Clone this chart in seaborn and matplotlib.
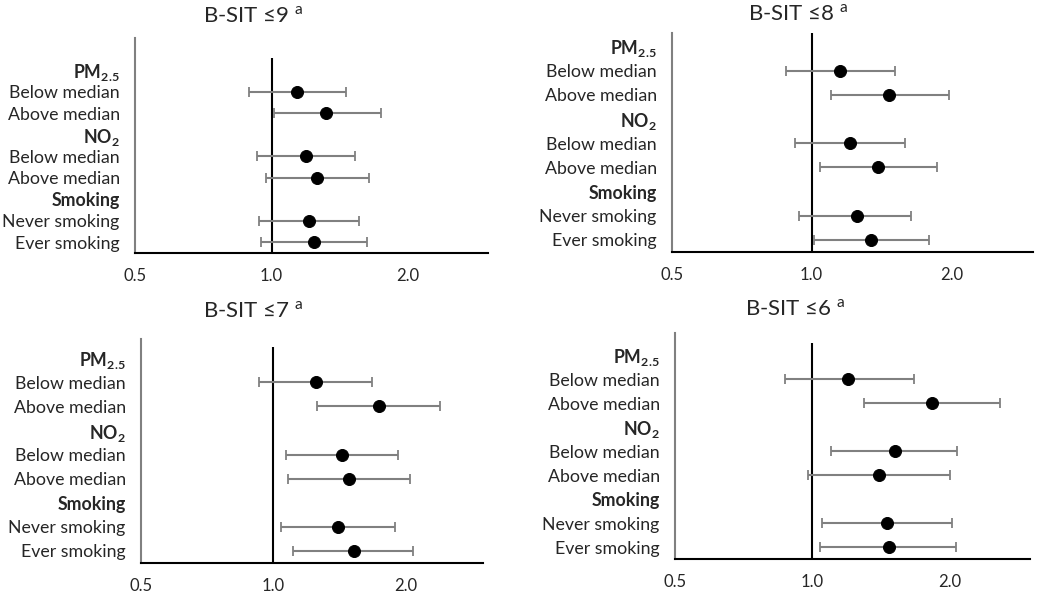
import numpy as np
import pandas as pd
import matplotlib
matplotlib.use("Agg")
import matplotlib.pyplot as plt
import seaborn as sns

sns.set_theme(style="white")
plt.rcParams['font.family'] = ['Lato', 'DejaVu Sans']
plt.rcParams['mathtext.fontset'] = 'custom'
plt.rcParams['mathtext.rm'] = 'Lato'
plt.rcParams['mathtext.bf'] = 'Lato:bold'

# row labels (top to bottom); headers carry no estimate
row_labels = [r"$\mathbf{PM_{2.5}}$", "Below median", "Above median",
              r"$\mathbf{NO_{2}}$", "Below median", "Above median",
              "Smoking", "Never smoking", "Ever smoking"]
header_rows = [0, 3, 6]
data_rows = [1, 2, 4, 5, 7, 8]

titles = [r"B-SIT ≤9 $^{\mathrm{a}}$", r"B-SIT ≤8 $^{\mathrm{a}}$",
          r"B-SIT ≤7 $^{\mathrm{a}}$", r"B-SIT ≤6 $^{\mathrm{a}}$"]

# odds ratios and 95% CI per panel, in the order of data_rows
or_9 = [1.14, 1.32, 1.19, 1.26, 1.21, 1.24]
lo_9 = [0.89, 1.01, 0.93, 0.97, 0.94, 0.95]
hi_9 = [1.46, 1.74, 1.53, 1.64, 1.56, 1.62]

or_8 = [1.15, 1.47, 1.21, 1.39, 1.25, 1.34]
lo_8 = [0.88, 1.10, 0.92, 1.04, 0.94, 1.01]
hi_8 = [1.51, 1.98, 1.59, 1.86, 1.64, 1.79]

or_7 = [1.25, 1.74, 1.43, 1.49, 1.40, 1.53]
lo_7 = [0.93, 1.26, 1.07, 1.08, 1.04, 1.11]
hi_7 = [1.68, 2.40, 1.92, 2.05, 1.89, 2.08]

or_6 = [1.20, 1.83, 1.52, 1.40, 1.46, 1.47]
lo_6 = [0.87, 1.30, 1.10, 0.98, 1.05, 1.04]
hi_6 = [1.67, 2.58, 2.08, 2.00, 2.02, 2.07]

x_ticks = [0.5, 1.0, 2.0]
x_ticklabels = ["0.5", "1.0", "2.0"]

panels = [(or_9, lo_9, hi_9), (or_8, lo_8, hi_8), (or_7, lo_7, hi_7), (or_6, lo_6, hi_6)]

# axes rectangles in pixels: left, right, top, bottom ; plus top y-limit, ref line start, title position
W, H = 1050, 595
layout = [
    dict(box=(135, 488, 38, 253), ytop=-1.5, ref=-0.55, title=(253, 16)),
    dict(box=(672, 1033, 33, 252), ytop=-0.55, ref=-0.55, title=(798, 14)),
    dict(box=(141, 483, 339, 563), ytop=-0.8, ref=-0.45, title=(253, 311)),
    dict(box=(675, 1030, 333, 559), ytop=-0.92, ref=-0.5, title=(795, 309)),
]

fig = plt.figure(figsize=(10.5, 5.95), dpi=100)

for (est, lo, hi), lay, title in zip(panels, layout, titles):
    l, r, t, b = lay["box"]
    ax = fig.add_axes([l / W, 1 - b / H, (r - l) / W, (b - t) / H])
    df = pd.DataFrame({"row": data_rows, "or": est, "lo": lo, "hi": hi})

    ax.set_xscale("log")
    ax.vlines(1.0, lay["ref"], 8.5, color="black", lw=1.5, zorder=1)
    ax.errorbar(df["or"], df["row"],
                xerr=[df["or"] - df["lo"], df["hi"] - df["or"]],
                fmt="none", ecolor="#808080", elinewidth=1.5, capsize=3.5,
                capthick=1.3, zorder=2)
    sns.scatterplot(data=df, x="or", y="row", ax=ax, color="black", s=75,
                    edgecolor="black", zorder=3, legend=False)

    ax.set_xlim(0.5, 3.0)
    ax.set_ylim(8.5, lay["ytop"])
    ax.set_xticks(x_ticks)
    ax.set_xticklabels(x_ticklabels, fontsize=12)
    ax.xaxis.set_minor_locator(matplotlib.ticker.NullLocator())
    ax.set_yticks(range(len(row_labels)))
    ax.set_yticklabels(row_labels, fontsize=12.8)
    for i, tl in enumerate(ax.get_yticklabels()):
        if i in header_rows:
            tl.set_fontweight("bold")
    ax.set_xlabel("")
    ax.set_ylabel("")
    ax.tick_params(axis="x", direction="out", length=4, width=1.2, color="black", pad=7)
    ax.tick_params(axis="y", length=0, pad=11)
    for s in ["top", "right"]:
        ax.spines[s].set_visible(False)
    ax.spines["left"].set_color("#808080")
    ax.spines["left"].set_linewidth(1.5)
    ax.spines["bottom"].set_color("black")
    ax.spines["bottom"].set_linewidth(1.5)

    tx, ty = lay["title"]
    fig.text(tx / W, 1 - ty / H, title, ha="center", va="center", fontsize=16)

fig.savefig("out.png", dpi=100)
